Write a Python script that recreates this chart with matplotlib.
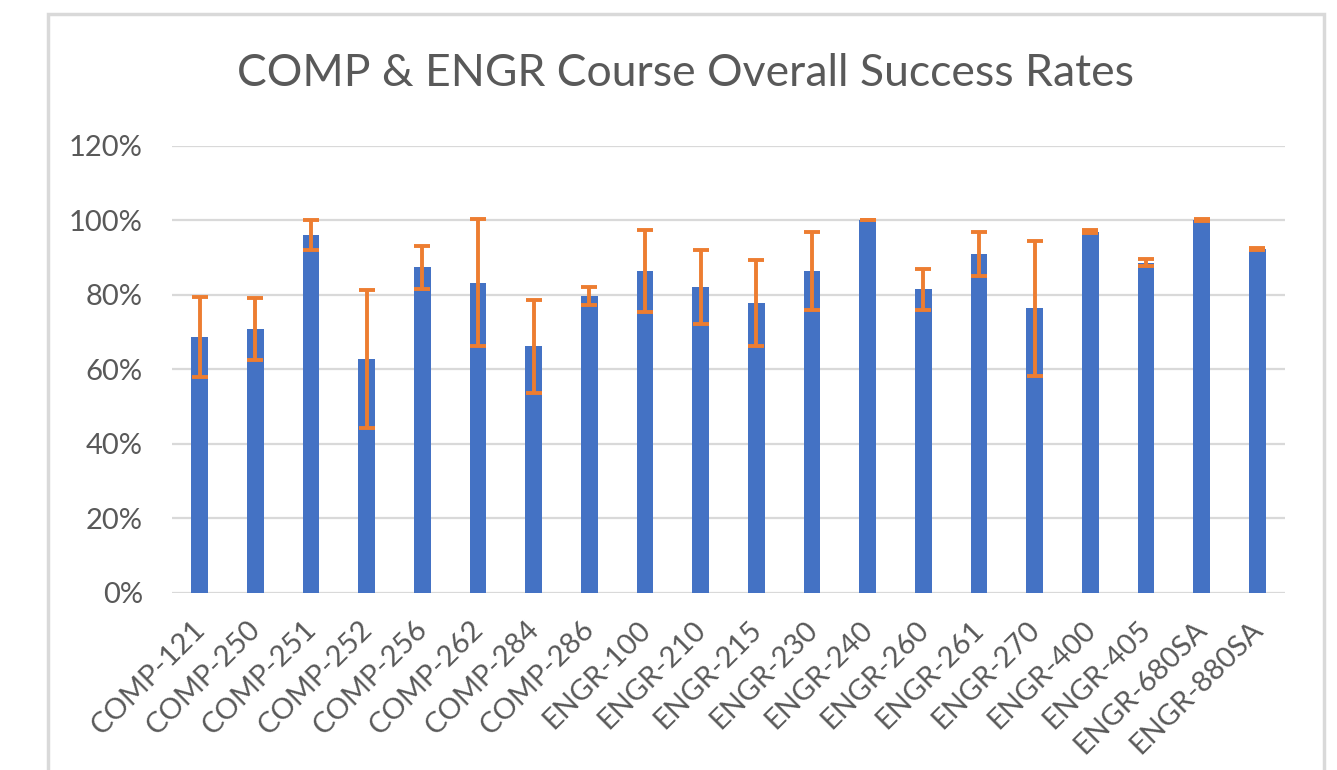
import numpy as np
import matplotlib
matplotlib.use("Agg")
import matplotlib.pyplot as plt
import matplotlib.transforms as mtransforms
from matplotlib.patches import Rectangle

courses = ["COMP-121", "COMP-250", "COMP-251", "COMP-252", "COMP-256", "COMP-262",
           "COMP-284", "COMP-286", "ENGR-100", "ENGR-210", "ENGR-215", "ENGR-230",
           "ENGR-240", "ENGR-260", "ENGR-261", "ENGR-270", "ENGR-400", "ENGR-405",
           "ENGR-680SA", "ENGR-880SA"]
# success rate (%) and error (+/- %)
rates = [68.6, 70.8, 96.0, 62.7, 87.4, 83.2, 66.2, 79.6, 86.4, 82.0,
         77.7, 86.4, 100.0, 81.4, 90.9, 76.3, 96.9, 88.6, 100.0, 92.3]
errs = [10.8, 8.4, 4.0, 18.6, 5.8, 17.0, 12.5, 2.5, 11.0, 9.9,
        11.5, 10.5, 0.0, 5.5, 6.0, 18.0, 0.4, 1.0, 0.3, 0.3]

txt = "#595959"
grid = "#d9d9d9"
plt.rcParams['font.family'] = ['Lato', 'DejaVu Sans']

fig = plt.figure(figsize=(13.37, 7.70), dpi=100)
ax = fig.add_axes([0.1286, 0.2303, 0.8325, 0.5805])

x = np.arange(len(courses))
ax.bar(x, rates, width=0.3, color="#4472C4", zorder=3)
ax.errorbar(x, rates, yerr=errs, fmt="none", ecolor="#ED7D31",
            elinewidth=2.8, capsize=6, capthick=2.8, zorder=4)

ax.set_xlim(-0.5, len(courses) - 0.5)
ax.set_ylim(0, 120)
ax.set_yticks(np.arange(0, 121, 20))
ax.set_yticklabels([f"{v}%" for v in range(0, 121, 20)])
ax.yaxis.grid(True, color=grid, linewidth=1.6, zorder=0)
ax.set_axisbelow(True)
for s in ax.spines.values():
    s.set_visible(False)
ax.tick_params(axis="y", length=0, pad=21, labelsize=21, labelcolor=txt)
ax.tick_params(axis="x", length=0, pad=17, labelsize=21, labelcolor=txt)
ax.set_xticks(x)
ax.set_xticklabels(courses, rotation=45, ha="right", rotation_mode="anchor")
shift = mtransforms.ScaledTranslation(-0.08, 0, fig.dpi_scale_trans)
for lab in ax.get_xticklabels():
    lab.set_transform(lab.get_transform() + shift)

fig.text(0.513, 0.905, "COMP & ENGR Course Overall Success Rates",
         ha="center", va="center", fontsize=32, color=txt)

# chart border
fig.patches.append(Rectangle((48 / 1337, -0.05), (1324 - 48) / 1337, 1.05 - 14 / 770,
                             transform=fig.transFigure, fill=False,
                             edgecolor=grid, linewidth=2.5))

fig.savefig("out.png", dpi=100)
